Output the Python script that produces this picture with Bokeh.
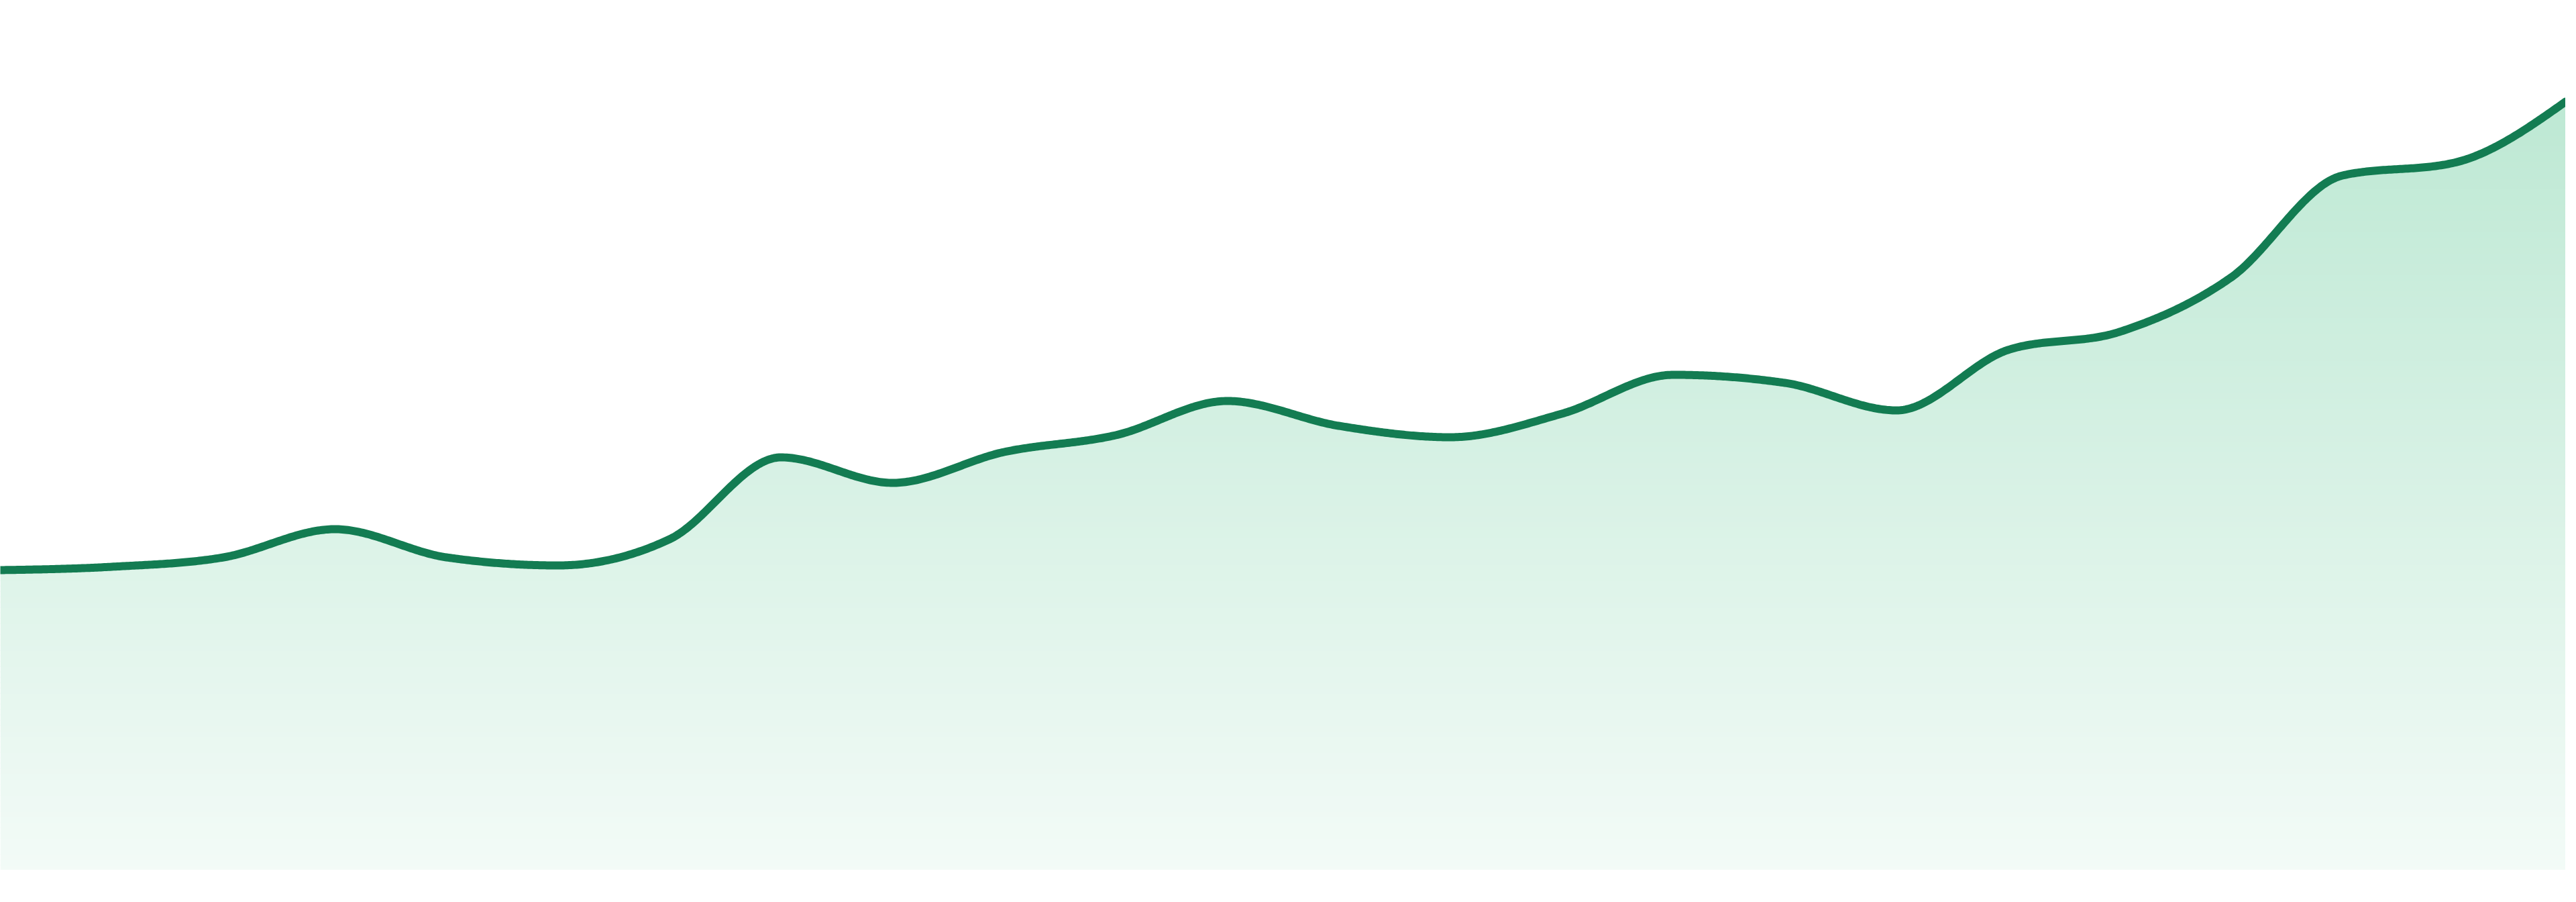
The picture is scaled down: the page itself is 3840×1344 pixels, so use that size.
import numpy as np
from bokeh.plotting import figure
from bokeh.models import Range1d
from bokeh.embed import file_html
from bokeh.resources import INLINE

# ---- data ----
points = list(range(24))
values = [447, 452, 466, 508, 466, 454, 493, 615, 577, 623, 648, 699,
          662, 645, 680, 738, 726, 685, 775, 802, 883, 1035, 1054, 1145]

LINE_COLOR = "#137c52"
FILL_RGB = (43, 182, 115)
Y_MAX = 1296


def monotone_curve(xs, ys, per_seg=60):
    x = np.asarray(xs, dtype=float)
    y = np.asarray(ys, dtype=float)
    n = len(x)
    h = np.diff(x)
    s = np.diff(y) / h
    t = np.zeros(n)
    for i in range(1, n - 1):
        s0, s1 = s[i - 1], s[i]
        h0, h1 = h[i - 1], h[i]
        p = (s0 * h1 + s1 * h0) / (h0 + h1)
        sg0 = -1.0 if s0 < 0 else 1.0
        sg1 = -1.0 if s1 < 0 else 1.0
        t[i] = (sg0 + sg1) * min(abs(s0), abs(s1), 0.5 * abs(p))
    t[0] = (3 * s[0] - t[1]) / 2
    t[-1] = (3 * s[-1] - t[-2]) / 2
    X, Y = [], []
    for i in range(n - 1):
        u = np.linspace(0, 1, per_seg, endpoint=False)
        h00 = 2 * u**3 - 3 * u**2 + 1
        h10 = u**3 - 2 * u**2 + u
        h01 = -2 * u**3 + 3 * u**2
        h11 = u**3 - u**2
        X.append(x[i] + u * h[i])
        Y.append(h00 * y[i] + h10 * h[i] * t[i] + h01 * y[i + 1] + h11 * h[i] * t[i + 1])
    X.append([x[-1]])
    Y.append([y[-1]])
    return np.concatenate(X), np.concatenate(Y)


cx, cy = monotone_curve(points, values)

p = figure(width=3824, height=1296, output_backend="svg", toolbar_location=None,
           x_range=Range1d(points[0], points[-1]), y_range=Range1d(0, Y_MAX),
           min_border=0, outline_line_color=None, background_fill_color="white",
           border_fill_color="white")
p.axis.visible = False
p.grid.visible = False

# gradient fill built from horizontal bands under the curve
step = 8
top = float(np.max(cy))
b = 0.0
while b < top:
    b1 = b + step
    mid = b + step / 2
    a = 0.058 + 0.00022 * mid
    a = min(a, 0.33)
    r = int(round(255 - a * (255 - FILL_RGB[0])))
    g = int(round(255 - a * (255 - FILL_RGB[1])))
    bl = int(round(255 - a * (255 - FILL_RGB[2])))
    col = "#%02x%02x%02x" % (r, g, bl)
    lo = max(b - 1.5, 0)
    upper = np.clip(cy, lo, b1)
    p.varea(x=cx, y1=np.full_like(cx, lo), y2=upper, fill_color=col, fill_alpha=1.0)
    b = b1

p.line(cx, cy, line_color=LINE_COLOR, line_width=12, line_join="round", line_cap="round")

open("out.html", "w").write(file_html(p, INLINE))
